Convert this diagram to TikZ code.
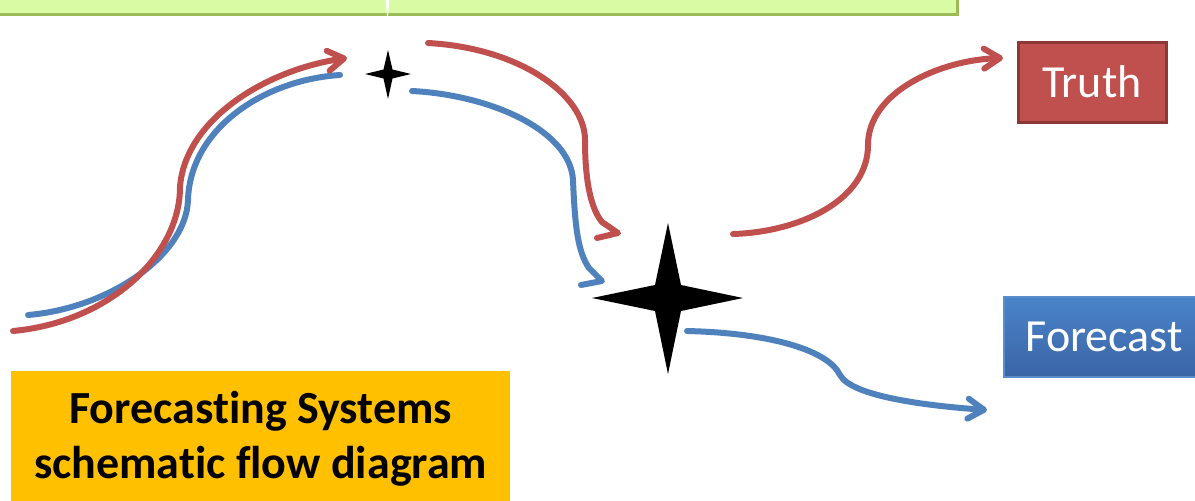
\documentclass[tikz,border=0pt]{standalone}
\usepackage{fontspec}
\setmainfont{Carlito}[Ligatures=NoCommon]
\usetikzlibrary{arrows.meta}
\definecolor{cred}{HTML}{C0504D}
\definecolor{credd}{HTML}{8C3836}
\definecolor{cblue}{HTML}{4F81BD}
\definecolor{gfill}{HTML}{D9FBA3}
\definecolor{gline}{HTML}{9BBB59}
\definecolor{corange}{HTML}{FFC000}
\definecolor{btop}{HTML}{4A84CA}
\definecolor{bbot}{HTML}{3A65A5}
\definecolor{bline}{HTML}{5A8DCB}
\begin{document}
\begin{tikzpicture}[x=1pt,y=-1pt,
  flow/.style={line width=6pt, line cap=round, line join=round},
  redflow/.style={flow, draw=cred},
  blueflow/.style={flow, draw=cblue},
  barbtip/.style={-{Straight Barb[length=16pt,width=20pt,round]}},
  boxtext/.style={text=white, font=\fontsize{46}{54}\selectfont, inner sep=0pt}]
\useasboundingbox (0,0) rectangle (1195,501);

% green banner at top
\path[fill=gfill, draw=gline, line width=3pt] (-10,-10) rectangle (957,14);
\fill[white] (385.5,-2) -- (389.5,-2) -- (388,16) -- (387,16) -- cycle;

% stars
\coordinate (smallstar) at (388,74);
\coordinate (bigstar) at (668,298);
\fill[black, shift={(388,74)}] (0,-24) -- (4.5,-4.5) -- (23,0) -- (4.5,4.5) -- (0,25) -- (-4.5,4.5) -- (-23,0) -- (-4.5,-4.5) -- cycle;
\fill[black, shift={(668,298)}] (0,-75) -- (13,-13) -- (75,0) -- (13,13) -- (0,76) -- (-13,13) -- (-76,0) -- (-13,-13) -- cycle;

% boxes
\node[boxtext, fill=cred, draw=credd, line width=3pt, minimum width=148pt, minimum height=80pt] (truth) at (1092,82) {Truth};
\node[boxtext, top color=btop, bottom color=bbot, draw=bline, line width=1.5pt, text width=172pt, align=left, inner xsep=22pt, minimum height=80pt, anchor=west] (forecast) at (1003,337) {Forecast};
\node[fill=corange, minimum width=499pt, minimum height=135pt, align=center, inner sep=0pt,
      font=\bfseries\fontsize{46}{57.5}\selectfont, anchor=north west] (title) at (11,371)
  {Forecasting Systems\\[-2pt]schematic flow diagram};

% connector end points
\coordinate (r1s) at (13,331);
\coordinate (r1m) at (180,187);
\coordinate (r1e) at (347,58);
\coordinate (b1s) at (28,315);
\coordinate (b1m) at (188,200);
\coordinate (b1e) at (340,75);
\coordinate (r2s) at (428,43);
\coordinate (r2m) at (585,140);
\coordinate (r2k) at (602,222);
\coordinate (r2t) at (618,233);
\coordinate (r2b) at (597,238);
\coordinate (b2s) at (412,91);
\coordinate (b2m) at (573,180);
\coordinate (b2k) at (589,268);
\coordinate (b2t) at (602,281);
\coordinate (b2b) at (581,285);
\coordinate (r3s) at (733,234);
\coordinate (r3m) at (868,145);
\coordinate (r3e) at (1003,58);
\coordinate (b3s) at (687,331);
\coordinate (b3m) at (840,375);
\coordinate (b3e) at (987,410);

% left S curves
\draw[blueflow] (b1s) .. controls (110,308) and (186,255) .. (b1m)
  .. controls (190,130) and (262,80) .. (b1e);
\draw[redflow, barbtip] (r1s) .. controls (110,322) and (180,255) .. (r1m)
  .. controls (185,120) and (265,70) .. (r1e);

% middle curves with half heads
\draw[redflow] (r2s) .. controls (520,48) and (585,95) .. (r2m)
  .. controls (585,185) and (592,210) .. (r2k) -- (r2t) -- (r2b);
\draw[blueflow] (b2s) .. controls (490,95) and (570,130) .. (b2m)
  .. controls (575,228) and (578,252) .. (b2k) -- (b2t) -- (b2b);

% right curves
\draw[redflow, barbtip] (r3s) .. controls (800,232) and (868,200) .. (r3m)
  .. controls (868,92) and (940,60) .. (r3e);
\draw[blueflow, barbtip] (b3s) .. controls (770,333) and (828,350) .. (b3m)
  .. controls (852,397) and (930,406) .. (b3e);
\end{tikzpicture}
\end{document}
